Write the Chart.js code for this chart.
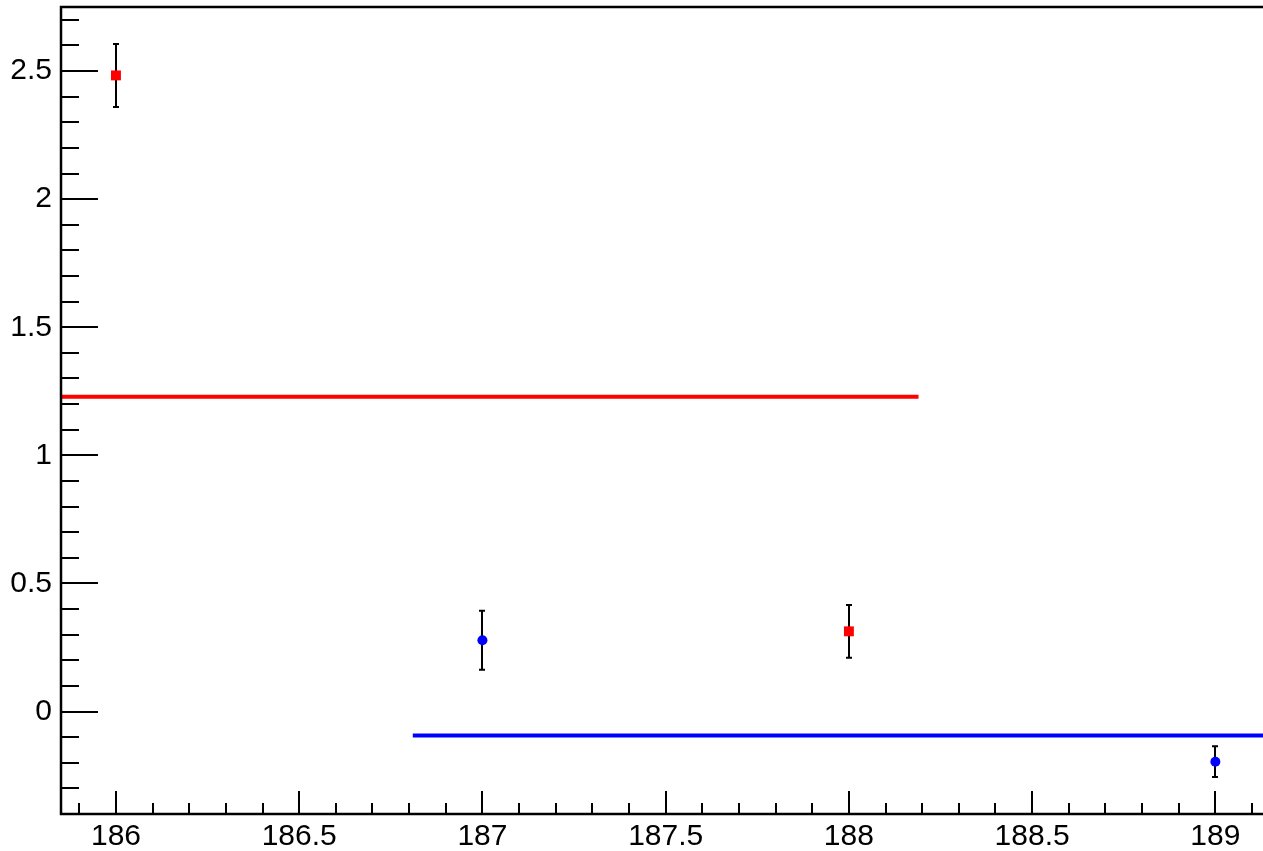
<!DOCTYPE html>
<html>
<head>
<meta charset="utf-8">
<script src="https://cdn.jsdelivr.net/npm/chart.js@4"></script>
<style>
body{margin:0;background:#fff;}
#wrap{width:1263px;height:851px;}
</style>
</head>
<body>
<div id="wrap"><canvas id="myChart" width="1263" height="851"></canvas></div>
<script>
// measured points (x, value, error)
const redX=[186,188];
const redY=[2.483,0.313];
const redErr=[0.123,0.103];
const blueX=[187,189];
const blueY=[0.278,-0.196];
const blueErr=[0.115,0.06];

// flat fit lines
const redFitX=[185.81,188.19];
const redFitY=[1.229,1.229];
const blueFitX=[186.81,189.19];
const blueFitY=[-0.094,-0.094];

// axes
const xTicks=[186,186.5,187,187.5,188,188.5,189];
const xLabels=['186','186.5','187','187.5','188','188.5','189'];
const yTicks=[0,0.5,1,1.5,2,2.5];
const yLabels=['0','0.5','1','1.5','2','2.5'];

function toPoints(xs,ys){
    return xs.map((v,i)=>({x:v,y:ys[i]}));
}

const errorBars={
    id:'errorBars',
    beforeDatasetsDraw(chart){
        const {ctx,scales:{x,y}}=chart;
        ctx.save();
        ctx.strokeStyle='#000';
        ctx.lineWidth=2;
        const sets=[[redX,redY,redErr],[blueX,blueY,blueErr]];
        sets.forEach(([xs,ys,es])=>{
            xs.forEach((xv,i)=>{
                const px=Math.round(x.getPixelForValue(xv));
                const top=y.getPixelForValue(ys[i]+es[i]);
                const bot=y.getPixelForValue(ys[i]-es[i]);
                ctx.beginPath();
                ctx.moveTo(px,top);ctx.lineTo(px,bot);
                ctx.moveTo(px-3,top);ctx.lineTo(px+3,top);
                ctx.moveTo(px-3,bot);ctx.lineTo(px+3,bot);
                ctx.stroke();
            });
        });
        ctx.restore();
    }
};

// ROOT style frame with ticks drawn inside
const frame={
    id:'frame',
    afterDraw(chart){
        const {ctx,chartArea:a,scales:{x,y}}=chart;
        ctx.save();
        ctx.strokeStyle='#000';
        ctx.lineWidth=2;
        ctx.beginPath();
        // y ticks
        for(let k=Math.ceil(y.min*10);k<=Math.floor(y.max*10);k++){
            const v=k/10;
            const py=Math.round(y.getPixelForValue(v));
            const major=yTicks.some(t=>Math.abs(t-v)<1e-6);
            ctx.moveTo(a.left,py);
            ctx.lineTo(a.left+(major?37:18),py);
        }
        // x ticks
        for(let k=Math.ceil(x.min*10);k<=Math.floor(x.max*10);k++){
            const v=k/10;
            const px=Math.round(x.getPixelForValue(v));
            const major=xTicks.some(t=>Math.abs(t-v)<1e-6);
            ctx.moveTo(px,a.bottom);
            ctx.lineTo(px,a.bottom-(major?23:11));
        }
        ctx.stroke();
        ctx.lineWidth=2.5;
        ctx.beginPath();
        ctx.moveTo(a.right+2,a.top);
        ctx.lineTo(a.left,a.top);
        ctx.lineTo(a.left,a.bottom);
        ctx.lineTo(a.right+2,a.bottom);
        ctx.stroke();
        ctx.restore();
    }
};

const ctx=document.getElementById('myChart');

new Chart(ctx,{
    type:'scatter',
    data:{
        datasets:[
            {
                label:'red fit',
                type:'line',
                data:toPoints(redFitX,redFitY),
                borderColor:'#ff0000',
                borderWidth:4,
                pointRadius:0,
                showLine:true
            },
            {
                label:'blue fit',
                type:'line',
                data:toPoints(blueFitX,blueFitY),
                borderColor:'#0000ff',
                borderWidth:4,
                pointRadius:0,
                showLine:true
            },
            {
                label:'red',
                data:toPoints(redX,redY),
                pointStyle:'rect',
                pointRadius:7,
                backgroundColor:'#ff0000',
                borderColor:'#ff0000',
                borderWidth:0
            },
            {
                label:'blue',
                data:toPoints(blueX,blueY),
                pointStyle:'circle',
                pointRadius:5,
                backgroundColor:'#0000ff',
                borderColor:'#0000ff',
                borderWidth:0
            }
        ]
    },
    options:{
        responsive:false,
        animation:false,
        devicePixelRatio:1,
        layout:{autoPadding:false,padding:{top:7,right:0,left:0,bottom:0}},
        scales:{
            x:{
                type:'linear',
                min:185.85,
                max:189.13,
                afterBuildTicks:(s)=>{s.ticks=xTicks.map(v=>({value:v}));},
                afterFit:(s)=>{s.height=37;s.paddingLeft=0;s.paddingRight=0;},
                grid:{display:false,drawTicks:false},
                border:{display:false},
                ticks:{
                    padding:5,
                    color:'#000',
                    font:{family:'"Liberation Sans", Arial, sans-serif',size:30},
                    maxRotation:0,
                    autoSkip:false,
                    callback:(v,i)=>xLabels[i]
                }
            },
            y:{
                type:'linear',
                min:-0.4,
                max:2.75,
                afterBuildTicks:(s)=>{s.ticks=yTicks.map(v=>({value:v}));},
                afterFit:(s)=>{s.width=61;s.paddingTop=0;s.paddingBottom=0;},
                grid:{display:false,drawTicks:false},
                border:{display:false},
                ticks:{
                    padding:9,
                    color:'#000',
                    font:{family:'"Liberation Sans", Arial, sans-serif',size:30},
                    autoSkip:false,
                    callback:(v,i)=>yLabels[i]
                }
            }
        },
        plugins:{
            legend:{display:false},
            tooltip:{enabled:false}
        }
    },
    plugins:[errorBars,frame]
});
</script>
</body>
</html>
